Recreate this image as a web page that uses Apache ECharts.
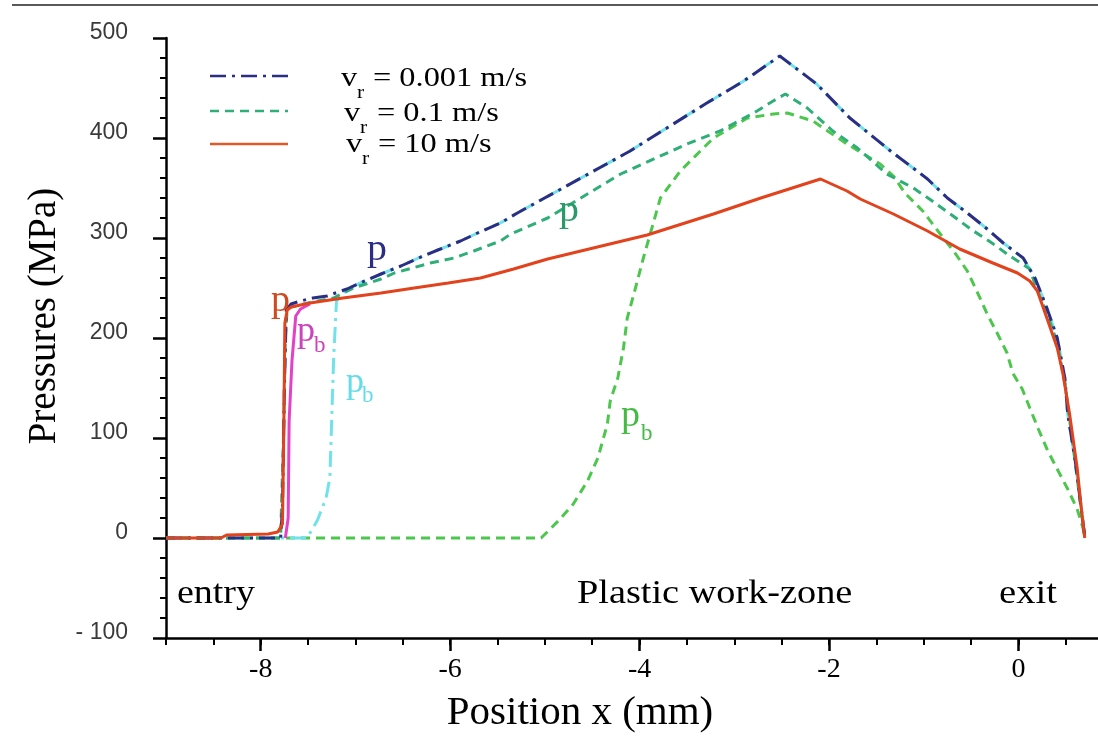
<!DOCTYPE html>
<html>
<head>
<meta charset="utf-8">
<script src="https://cdn.jsdelivr.net/npm/echarts@6/dist/echarts.min.js"></script>
<style>
html,body{margin:0;padding:0;background:#fff;}
#chart{width:1098px;height:750px;}
</style>
</head>
<body>
<div id="chart"></div>
<script>
// ---- tick values ----
const xLabelTicks = [-8, -6, -4, -2, 0];
const xMinorTicks = [-9, -8.5, -8, -7.5, -7, -6.5, -6, -5.5, -5, -4.5, -4, -3.5, -3, -2.5, -2, -1.5, -1, -0.5, 0, 0.5];
const yLabelTicks = [-100, 0, 100, 200, 300, 400, 500];

// ---- series data [x (mm), pressure (MPa)] ----
// v_r = 0.001 m/s, p
const navyP = [[-9,0],[-7.79,0],[-7.77,30],[-7.75,150],[-7.73,228],[-7.68,234],[-7.58,237],[-7.45,240],[-7.30,242],[-7.09,249],[-6.95,255],[-6.73,264],[-6.52,272],[-6.31,281],[-6.13,288],[-5.89,297],[-5.71,305],[-5.47,315],[-5.29,325],[-4.10,387],[-3.29,435],[-2.90,457],[-2.52,482],[-2.13,454],[-1.78,420],[-1.35,387],[-1.14,372],[-0.96,359],[-0.75,340],[-0.54,325],[-0.33,309],[-0.16,295],[0.05,280],[0.18,259],[0.30,230],[0.41,200],[0.49,160],[0.52,124],[0.60,77],[0.70,2]];
// v_r = 0.001 m/s, p_b
const cyanPb = [[-9,0],[-7.51,0],[-7.40,18],[-7.31,40],[-7.27,60],[-7.25,120],[-7.23,180],[-7.20,237],[-7.09,249],[-6.95,255],[-6.73,264],[-6.52,272],[-6.31,281],[-6.13,288],[-5.89,297],[-5.71,305],[-5.47,315],[-5.29,325],[-4.10,387],[-3.29,435],[-2.90,457],[-2.52,482],[-2.13,454],[-1.78,420],[-1.35,387],[-1.14,372],[-0.96,359],[-0.75,340],[-0.54,325],[-0.33,309],[-0.16,295],[0.05,280],[0.18,259],[0.30,230],[0.41,200],[0.49,160],[0.52,124],[0.60,77],[0.70,2]];
// v_r = 0.1 m/s, p
const tealP = [[-9,0],[-7.79,0],[-7.76,100],[-7.74,200],[-7.72,230],[-7.50,235],[-7.23,240],[-7.02,250],[-6.73,259],[-6.59,265],[-6.21,275],[-5.96,280],[-5.75,287],[-5.47,297],[-5.36,304],[-4.97,320],[-4.20,364],[-3.50,394],[-3.15,407],[-2.76,427],[-2.59,437],[-2.46,444],[-2.23,430],[-1.96,407],[-1.70,390],[-1.39,364],[-1.11,350],[-0.91,337],[-0.69,322],[-0.49,308],[-0.28,295],[-0.09,282],[0.12,269],[0.20,247],[0.30,225],[0.41,195],[0.49,155],[0.60,75],[0.70,0]];
// v_r = 0.1 m/s, p_b
const greenPb = [[-9,0],[-5.04,0],[-4.86,17],[-4.70,34],[-4.55,57],[-4.44,80],[-4.34,114],[-4.31,137],[-4.23,160],[-4.17,190],[-4.13,220],[-4.06,244],[-3.96,280],[-3.78,340],[-3.57,367],[-3.22,400],[-2.86,420],[-2.59,424],[-2.44,425],[-2.17,417],[-1.81,394],[-1.46,374],[-1.32,362],[-1.20,345],[-1.01,327],[-0.85,307],[-0.67,285],[-0.54,267],[-0.44,247],[-0.33,224],[-0.22,204],[-0.12,185],[-0.06,165],[0.04,149],[0.12,130],[0.21,109],[0.31,87],[0.42,67],[0.52,49],[0.62,29],[0.70,4]];
// v_r = 10 m/s, p
const redP = [[-9,0],[-8.42,0],[-8.36,3],[-7.92,4],[-7.82,6],[-7.77,14],[-7.755,120],[-7.745,215],[-7.72,228],[-7.68,231],[-7.48,235],[-7.13,240],[-6.73,245],[-6.38,250],[-6.02,255],[-5.68,260],[-5.33,269],[-4.97,279],[-3.92,303],[-3.22,324],[-2.72,340],[-2.09,359],[-1.81,347],[-1.67,339],[-1.32,324],[-0.96,307],[-0.62,289],[-0.27,275],[-0.01,265],[0.12,257],[0.20,247],[0.30,220],[0.41,190],[0.47,164],[0.54,124],[0.62,70],[0.67,24],[0.70,0]];
// v_r = 10 m/s, p_b
const magentaPb = [[-7.74,0],[-7.71,20],[-7.70,117],[-7.67,177],[-7.63,222],[-7.58,229],[-7.48,234]];

const C = {
  navy: '#2b2e85', cyan: '#6fe2ea', teal: '#2fae78', green: '#4cc64c', red: '#e2421c', magenta: '#e442c6'
};
const DASHDOT = [16, 6, 3, 6];
const DASH = [9, 6];

function line(name, data, color, type, width, z) {
  return { name, type: 'line', data, symbol: 'none', showSymbol: false, z,
    lineStyle: { color, width, type }, itemStyle: { color }, emphasis: { disabled: true } };
}

const SERIF = '"Liberation Serif", "Times New Roman", serif';
const SANS = '"Liberation Sans", Arial, sans-serif';
function txt(s, x, y, size, color, sx) {
  return { type: 'text', x, y, scaleX: sx || 1, z: 100,
    style: { text: s, font: size + 'px ' + SERIF, fill: color, align: 'left', verticalAlign: 'middle' } };
}
function lg(y, color, dash) {
  return { type: 'line', z: 100, shape: { x1: 210, y1: y, x2: 288, y2: y },
    style: { stroke: color, lineWidth: 2.5, lineDash: dash } };
}

const chart = echarts.init(document.getElementById('chart'), null, { renderer: 'canvas' });
chart.setOption({
  animation: false,
  backgroundColor: '#ffffff',
  grid: { left: 166, right: 0, top: 38, bottom: 112 },
  xAxis: [{
    type: 'value', min: -9, max: 0.84, position: 'bottom',
    name: 'Position x (mm)', nameLocation: 'middle', nameGap: 55,
    nameTextStyle: { fontFamily: SERIF, fontSize: 41, color: '#000', padding: [0, 104, 0, 0] },
    axisLine: { onZero: false, lineStyle: { color: '#000', width: 2.5 } },
    axisTick: { customValues: xLabelTicks, length: 13, lineStyle: { color: '#000', width: 2.5 } },
    axisLabel: { customValues: xLabelTicks, margin: 18,
      formatter: v => '{a|' + v + '}',
      rich: { a: { fontFamily: SERIF, fontSize: 28, color: '#000' } } },
    splitLine: { show: false }
  }, {
    type: 'value', min: -9, max: 0.84, position: 'bottom',
    axisLine: { show: false, onZero: false },
    axisTick: { customValues: xMinorTicks, length: 7, lineStyle: { color: '#000', width: 2 } },
    axisLabel: { show: false }, splitLine: { show: false }
  }],
  yAxis: {
    type: 'value', min: -100, max: 500, interval: 100,
    name: 'Pressures (MPa)', nameLocation: 'middle', nameGap: 97,
    nameTextStyle: { fontFamily: SERIF, fontSize: 39, color: '#000', padding: [0, 0, 0, 44] },
    axisLine: { onZero: false, lineStyle: { color: '#000', width: 2.5 } },
    axisTick: { length: 13, lineStyle: { color: '#000', width: 2.5 } },
    minorTick: { show: true, splitNumber: 5, length: 6, lineStyle: { color: '#000', width: 2 } },
    axisLabel: { margin: 38,
      formatter: v => '{a|' + (v < 0 ? '- ' + Math.abs(v) : String(v)) + '}',
      rich: { a: { fontFamily: SANS, fontSize: 23, color: '#3a3a3a', padding: [0, 0, 10, 0] } } },
    splitLine: { show: false }
  },
  series: [
    line('p_b (v_r = 0.1 m/s)', greenPb, C.green, DASH, 3, 1),
    line('p_b (v_r = 0.001 m/s)', cyanPb, C.cyan, DASHDOT, 3, 2),
    line('p_b (v_r = 10 m/s)', magentaPb, C.magenta, 'solid', 3, 3),
    line('p (v_r = 0.1 m/s)', tealP, C.teal, DASH, 3, 4),
    line('p (v_r = 0.001 m/s)', navyP, C.navy, DASHDOT, 3, 5),
    line('p (v_r = 10 m/s)', redP, C.red, 'solid', 3, 6)
  ],
  graphic: [
    { type: 'line', z: 100, shape: { x1: 12, y1: 5, x2: 1098, y2: 5 }, style: { stroke: '#222', lineWidth: 1.5 } },
    // legend
    lg(76, C.navy, DASHDOT), lg(111, C.teal, DASH), lg(144, '#df5a2a', null),
    txt('v', 341, 79, 27, '#000', 1.2), txt('r', 357, 93, 18, '#000', 1.2), txt('= 0.001 m/s', 373, 79, 27, '#000', 1.2),
    txt('v', 344, 114, 27, '#000', 1.2), txt('r', 360, 128, 18, '#000', 1.2), txt('= 0.1 m/s', 377, 114, 27, '#000', 1.2),
    txt('v', 346, 145, 27, '#000', 1.2), txt('r', 362, 159, 18, '#000', 1.2), txt('= 10 m/s', 378, 145, 27, '#000', 1.2),
    // curve labels
    txt('p', 367, 250, 38, '#2b2e85', 1.05),
    txt('p', 559, 211, 38, '#2a9a6a', 1.05),
    txt('p', 271, 301, 38, '#cf4a1e', 1.0),
    txt('p', 297, 332, 36, '#cc44bb', 1.0), txt('b', 314, 346, 23, '#cc44bb', 1.0),
    txt('p', 346, 383, 36, '#66dde6', 1.0), txt('b', 362, 396, 23, '#66dde6', 1.0),
    txt('p', 621, 416, 38, '#44bb44', 1.0), txt('b', 641, 434, 23, '#44bb44', 1.0),
    // zone labels
    txt('entry', 177, 594, 33, '#000', 1.15),
    txt('Plastic work-zone', 577, 594, 33, '#000', 1.16),
    txt('exit', 999, 594, 33, '#000', 1.17)
  ]
});
</script>
</body>
</html>
